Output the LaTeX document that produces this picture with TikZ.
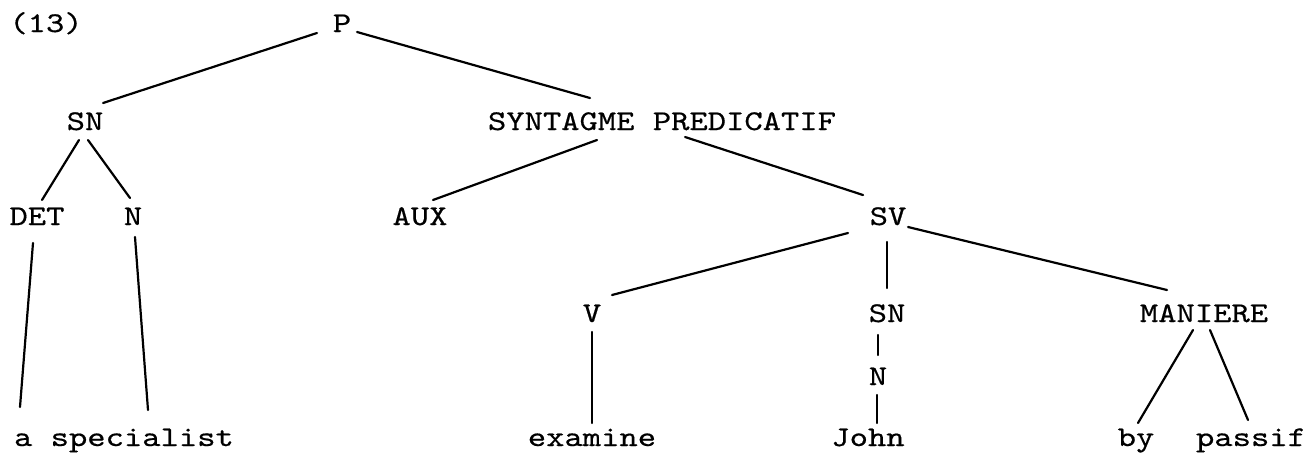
\documentclass[tikz,border=0pt]{standalone}
\usepackage{fontspec}
\setmonofont[FakeStretch=1.22,FakeBold=0.5]{lmmono10-regular.otf}
\usetikzlibrary{calc}
\tikzstyle{cat}=[inner sep=0pt, anchor=base, font=\fontsize{28.6}{30}\selectfont\ttfamily]

\begin{document}
\begin{tikzpicture}[
        x=1pt, y=-1pt,
        branch/.style={line width=2.2pt, line cap=round},
      ]
      \useasboundingbox (0,0) rectangle (1311,453);
      % categories
      \node (Num) [cat] at (46,32) {(13)};
      \node (P) [cat] at (342,32) {P};
      \node (SN) [cat] at (85,130) {SN};
      \node (SP) [cat] at (662,130) {SYNTAGME PREDICATIF};
      \node (DET) [cat] at (37,225) {DET};
      \node (N) [cat] at (133,225) {N};
      \node (AUX) [cat] at (420,225) {AUX};
      \node (SV) [cat] at (888,225) {SV};
      \node (V) [cat] at (592,322) {V};
      \node (SNobj) [cat] at (887,322) {SN};
      \node (Maniere) [cat] at (1204,322) {MANIERE};
      \node (Nobj) [cat] at (878,385) {N};
      % words
      \node (Spec) [cat] at (124,446) {a specialist};
      \node (Examine) [cat] at (592,446) {examine};
      \node (John) [cat] at (868,446) {John};
      \node (By) [cat] at (1136,446) {by};
      \node (Passif) [cat] at (1251,446) {passif};
      % branches
      \draw [branch] ($(P.base)+(-25,1)$) -- ($(SN.base)+(18,-27)$);
      \draw [branch] ($(P.base)+(15,0)$) -- ($(SP.base)+(-72,-32)$);
      \draw [branch] ($(SN.base)+(-6,10)$) -- ($(DET.base)+(5,-25)$);
      \draw [branch] ($(SN.base)+(3,10)$) -- ($(N.base)+(-3,-27)$);
      \draw [branch] ($(DET.base)+(-4,18)$) -- ($(Spec.base)+(-104,-39)$);
      \draw [branch] ($(N.base)+(2,12)$) -- ($(Spec.base)+(24,-36)$);
      \draw [branch] ($(SP.base)+(-65,10)$) -- ($(AUX.base)+(13,-25)$);
      \draw [branch] ($(SP.base)+(23,7)$) -- ($(SV.base)+(-25,-30)$);
      \draw [branch] ($(SV.base)+(-40,8)$) -- ($(V.base)+(20,-27)$);
      \draw [branch] ($(SV.base)+(-1,17)$) -- ($(SNobj.base)+(0,-34)$);
      \draw [branch] ($(SV.base)+(20,2)$) -- ($(Maniere.base)+(-37,-32)$);
      \draw [branch] ($(V.base)+(0,10)$) -- ($(Examine.base)+(0,-23)$);
      \draw [branch] ($(SNobj.base)+(-9,13)$) -- ($(Nobj.base)+(0,-30)$);
      \draw [branch] ($(Nobj.base)+(-1,10)$) -- ($(John.base)+(9,-23)$);
      \draw [branch] ($(Maniere.base)+(-11,8)$) -- ($(By.base)+(2,-23)$);
      \draw [branch] ($(Maniere.base)+(6,8)$) -- ($(Passif.base)+(-3,-26)$);
    \end{tikzpicture}
\end{document}
